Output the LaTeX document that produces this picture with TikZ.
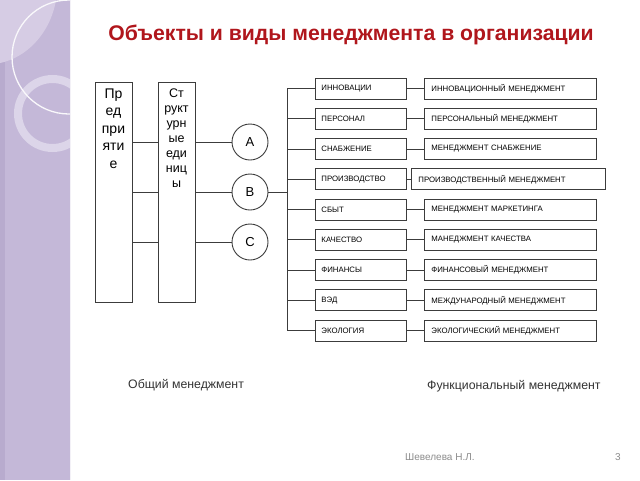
\documentclass[tikz,border=0pt]{standalone}
\usepackage{fontspec}
\setmainfont{Liberation Sans}
\definecolor{strip}{RGB}{196,184,216}
\definecolor{striplight}{RGB}{214,204,228}
\definecolor{stripdark}{RGB}{184,171,206}
\definecolor{ringcol}{RGB}{220,213,233}
\definecolor{titlered}{RGB}{176,22,28}
\definecolor{linegray}{RGB}{60,60,60}
\definecolor{footgray}{RGB}{140,140,140}
\tikzset{
  objbox/.style={draw=linegray, line width=0.9pt, rectangle, anchor=west,
    minimum width=91pt, minimum height=21pt, text width=79pt, align=left,
    inner xsep=6pt, inner ysep=0pt, font=\fontsize{7.8}{9}\selectfont},
  funbox/.style={draw=linegray, line width=0.9pt, rectangle, anchor=west,
    minimum width=172pt, minimum height=21pt, text width=158pt, align=left,
    inner xsep=7pt, inner ysep=0pt, font=\fontsize{7.8}{9}\selectfont},
  tallbox/.style={draw=linegray, line width=0.9pt, rectangle, anchor=north west,
    minimum width=37pt, minimum height=220pt, inner sep=0pt},
  circ/.style={draw=linegray, line width=0.9pt, circle, minimum size=36pt,
    inner sep=0pt, font=\fontsize{13}{13}\selectfont},
  conn/.style={draw=linegray, line width=0.9pt},
  lbl/.style={anchor=west, inner sep=0pt, text=black!80, font=\fontsize{12.3}{14}\selectfont}
}
\begin{document}
\begin{tikzpicture}[x=1pt,y=-1pt]
\useasboundingbox (0,0) rectangle (640,480);
% left decorative strip
\fill[strip] (0,0) rectangle (70,480);
\fill[stripdark] (0,0) rectangle (5,480);
\begin{scope}
\clip (0,0) rectangle (70,480);
\fill[striplight] (0,0) -- (0,63) .. controls (25,58) and (50,35) .. (56,0) -- cycle;
\draw[ringcol, line width=8pt] (52.5,113.5) circle (34.5);
\draw[white!90!strip, line width=1.3pt] (69,57) circle (57);
\end{scope}
\draw[white!80!strip, line width=0.8pt] (70,0) -- (70,480);
% title
\node[font=\fontsize{21.2}{24}\selectfont\bfseries, text=titlered, inner sep=0pt] (title) at (351,35) {Объекты и виды менеджмента в организации};
% tall boxes
\node[tallbox] (ent) at (95,82) {};
\node[anchor=north, align=center, inner sep=0pt, font=\fontsize{14}{17.5}\selectfont] (entT) at (113.5,88.5) {Пр\\ед\\при\\яти\\е};
\node[tallbox] (str) at (158,82) {};
\node[anchor=north, align=center, inner sep=0pt, font=\fontsize{12.5}{15}\selectfont] (strT) at (176.5,88.5) {Ст\\рукт\\урн\\ые\\еди\\ниц\\ы};
% circles
\node[circ] (cA) at (250,142) {A};
\node[circ] (cB) at (250,192) {B};
\node[circ] (cC) at (250,242) {C};
\foreach \c in {cA,cB,cC}{
  \draw[conn] (ent.east |- \c) -- (str.west |- \c);
  \draw[conn] (str.east |- \c) -- (\c.west);
}
% objects
\node[objbox] (o1) at (315,88.5) {ИННОВАЦИИ};
\node[objbox] (o2) at (315,118.75) {ПЕРСОНАЛ};
\node[objbox] (o3) at (315,149) {СНАБЖЕНИЕ};
\node[objbox] (o4) at (315,179.25) {ПРОИЗВОДСТВО};
\node[objbox] (o5) at (315,209.5) {СБЫТ};
\node[objbox] (o6) at (315,239.75) {КАЧЕСТВО};
\node[objbox] (o7) at (315,270) {ФИНАНСЫ};
\node[objbox] (o8) at (315,300.25) {ВЭД};
\node[objbox] (o9) at (315,330.5) {ЭКОЛОГИЯ};
% functional
\node[funbox] (f1) at (424,88.5) {ИННОВАЦИОННЫЙ МЕНЕДЖМЕНТ};
\node[funbox] (f2) at (424,118.75) {ПЕРСОНАЛЬНЫЙ МЕНЕДЖМЕНТ};
\node[funbox] (f3) at (424,149) {МЕНЕДЖМЕНТ СНАБЖЕНИЕ};
\node[funbox, minimum width=194pt, text width=180pt] (f4) at (411,179.25) {ПРОИЗВОДСТВЕННЫЙ МЕНЕДЖМЕНТ};
\node[funbox] (f5) at (424,209.5) {МЕНЕДЖМЕНТ МАРКЕТИНГА};
\node[funbox] (f6) at (424,239.75) {МАНЕДЖМЕНТ КАЧЕСТВА};
\node[funbox] (f7) at (424,270) {ФИНАНСОВЫЙ МЕНЕДЖМЕНТ};
\node[funbox] (f8) at (424,300.25) {МЕЖДУНАРОДНЫЙ МЕНЕДЖМЕНТ};
\node[funbox] (f9) at (424,330.5) {ЭКОЛОГИЧЕСКИЙ МЕНЕДЖМЕНТ};
% bus
\coordinate (busT) at (287,88.5);
\coordinate (busB) at (287,330.5);
\draw[conn] (busT) -- (busB);
\draw[conn] (cB.east) -- (cB -| busT);
\foreach \i in {1,...,9}{
  \draw[conn] (busT |- o\i.west) -- (o\i.west);
  \draw[conn] (o\i.east) -- (f\i.west);
}
% labels
\node[lbl] (gen) at (128,385) {Общий менеджмент};
\node[lbl] (fun) at (427,386) {Функциональный менеджмент};
\node[anchor=west, inner sep=0pt, text=footgray, font=\fontsize{10}{12}\selectfont] (auth) at (405,457) {Шевелева Н.Л.};
\node[inner sep=0pt, text=footgray, font=\fontsize{10}{12}\selectfont] (page) at (618,457) {3};
\end{tikzpicture}
\end{document}
